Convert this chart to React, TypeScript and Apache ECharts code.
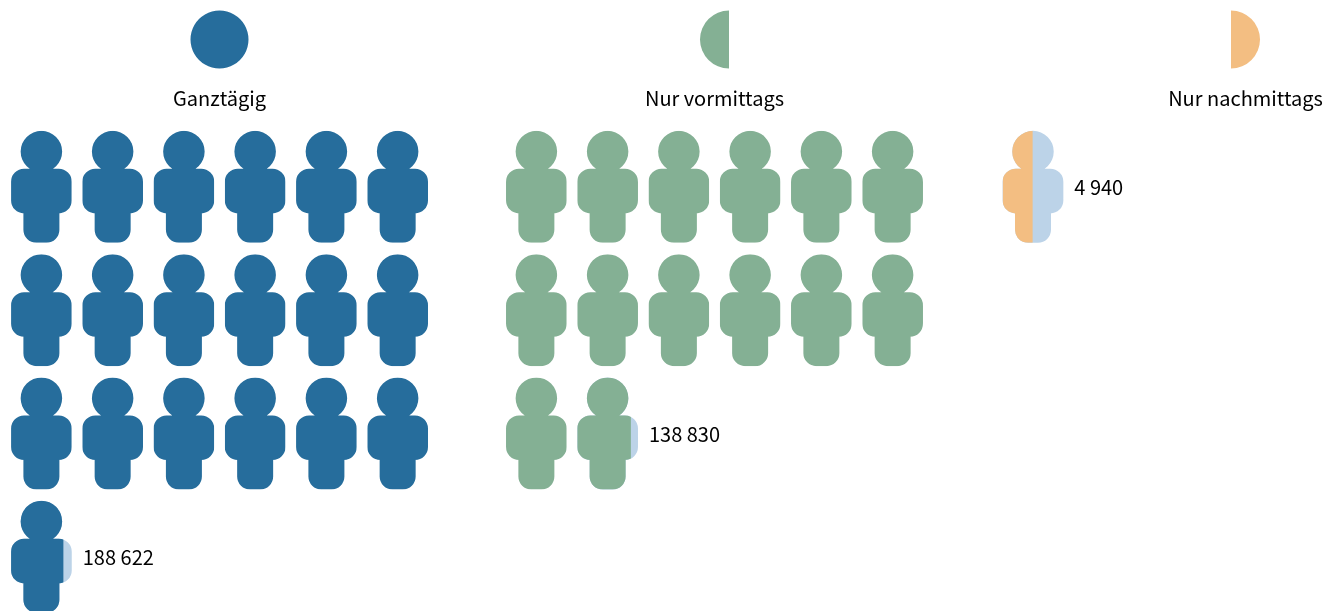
import React, { useEffect, useRef } from "react";
import * as echarts from "echarts";

// Childcare attendance by time of day; one figure stands for 10 000 children.
const categories = ["Ganztägig", "Nur vormittags", "Nur nachmittags"];
const children = [188622, 138830, 4940];
const fillColors = ["#266d9c", "#84b094", "#f3be82"];
const remainderColor = "#bcd3e8";
const childrenPerFigure = 10000;
const figuresPerRow = 6;

// Layout
const WIDTH = 1327;
const HEIGHT = 611;
const COL_PITCH = 71.25;
const ROW_PITCH = 123.33;
const FIRST_COL_X = 41.4;
const FIRST_ROW_Y = 186.8;
const groupColumnOffsets = [0, 6.947, 13.917];
const legendCenters = [219.5, 714.5, 1245.5];
const FIG_W = 60.7;
const FIG_H = 112;
const FONT = "'Noto Sans CJK SC', sans-serif";

const figurePath = (() => {
  const c = FIG_W / 2;
  const head = 20.75;
  const rr = (x: number, y: number, w: number, h: number, r: number) =>
    `M${x + r} ${y}H${x + w - r}A${r} ${r} 0 0 1 ${x + w} ${y + r}V${y + h - r}` +
    `A${r} ${r} 0 0 1 ${x + w - r} ${y + h}H${x + r}A${r} ${r} 0 0 1 ${x} ${y + h - r}` +
    `V${y + r}A${r} ${r} 0 0 1 ${x + r} ${y}Z`;
  return (
    `M${c} 0A${head} ${head} 0 0 1 ${c} ${2 * head}A${head} ${head} 0 0 1 ${c} 0Z` +
    rr(0, 38, FIG_W, 44.6, 13) +
    rr(c - 18, 60, 36, FIG_H - 60, 13)
  );
})();

type Figure = [number, number, number, number, number];

// One row per figure: column, row, filled share, category index, value shown beside it (or 0)
const figures: Figure[] = children.flatMap((value, g) => {
  const count = Math.ceil(value / childrenPerFigure);
  return Array.from({ length: count }, (_, i): Figure => [
    groupColumnOffsets[g] + (i % figuresPerRow),
    Math.floor(i / figuresPerRow),
    Math.min(1, value / childrenPerFigure - i),
    g,
    i === count - 1 ? value : 0,
  ]);
});

const formatValue = (v: number) => String(v).replace(/\B(?=(\d{3})+$)/g, " ");

function renderFigure(_: unknown, api: any) {
  const [cx, cy] = api.coord([api.value(0), api.value(1)]);
  const share = api.value(2) as number;
  const g = api.value(3) as number;
  const value = api.value(4) as number;
  const x = cx - FIG_W / 2;
  const y = cy - FIG_H / 2;
  const shape = { pathData: figurePath, x, y, width: FIG_W, height: FIG_H, layout: "cover" };
  const children: any[] = [];
  if (share < 1) {
    children.push({ type: "path", shape, style: { fill: remainderColor } });
  }
  children.push({
    type: "path",
    shape,
    style: { fill: fillColors[g] },
    clipPath: { type: "rect", shape: { x, y, width: FIG_W * share, height: FIG_H } },
  });
  if (value) {
    children.push({
      type: "text",
      style: {
        x: x + FIG_W + 11,
        y: cy,
        text: formatValue(value),
        fill: "#000000",
        font: `20px ${FONT}`,
        textAlign: "left",
        textVerticalAlign: "middle",
      },
    });
  }
  return { type: "group", children };
}

const LEGEND_Y = 39.5;
const LEGEND_R = 29;

const legendMarks = [
  { type: "circle", shape: { cx: legendCenters[0], cy: LEGEND_Y, r: LEGEND_R }, style: { fill: fillColors[0] } },
  {
    type: "sector",
    shape: {
      cx: legendCenters[1] + LEGEND_R / 2,
      cy: LEGEND_Y,
      r: LEGEND_R,
      r0: 0,
      startAngle: Math.PI / 2,
      endAngle: (3 * Math.PI) / 2,
    },
    style: { fill: fillColors[1] },
  },
  {
    type: "sector",
    shape: {
      cx: legendCenters[2] - LEGEND_R / 2,
      cy: LEGEND_Y,
      r: LEGEND_R,
      r0: 0,
      startAngle: -Math.PI / 2,
      endAngle: Math.PI / 2,
    },
    style: { fill: fillColors[2] },
  },
];

const legendTexts = categories.map((name, i) => ({
  type: "text",
  x: legendCenters[i],
  y: 97.5,
  style: {
    text: name,
    fill: "#000000",
    font: `20px ${FONT}`,
    textAlign: "center",
    textVerticalAlign: "middle",
  },
}));

export default function App() {
  const ref = useRef<HTMLDivElement>(null);

  useEffect(() => {
    const chart = echarts.init(ref.current!, undefined, { renderer: "svg" });
    chart.setOption({
      animation: false,
      grid: { left: 0, right: 0, top: 0, bottom: 0 },
      xAxis: {
        type: "value",
        show: false,
        min: -FIRST_COL_X / COL_PITCH,
        max: (WIDTH - FIRST_COL_X) / COL_PITCH,
      },
      yAxis: {
        type: "value",
        show: false,
        inverse: true,
        min: -FIRST_ROW_Y / ROW_PITCH,
        max: (HEIGHT - FIRST_ROW_Y) / ROW_PITCH,
      },
      graphic: [...legendMarks, ...legendTexts],
      series: [
        {
          type: "custom",
          clip: false,
          silent: true,
          data: figures,
          renderItem: renderFigure,
        },
      ],
    });
    return () => chart.dispose();
  }, []);

  return (
    <div
      ref={ref}
      style={{ position: "fixed", left: 0, top: 0, width: WIDTH, height: HEIGHT, overflow: "hidden" }}
    />
  );
}
